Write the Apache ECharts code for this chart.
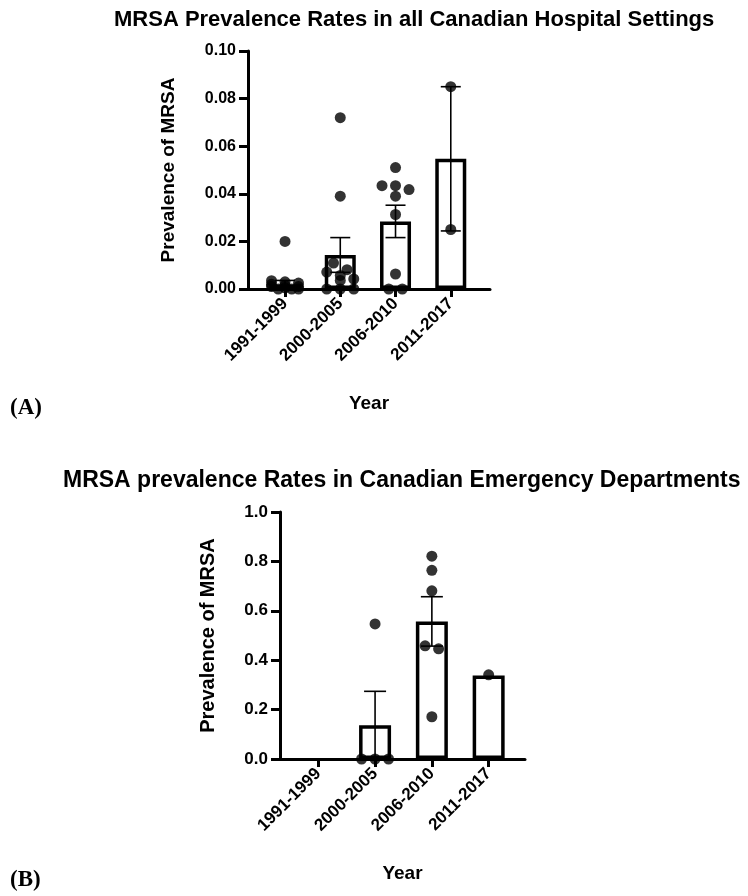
<!DOCTYPE html>
<html>
<head>
<meta charset="utf-8">
<script src="https://cdn.jsdelivr.net/npm/echarts@6/dist/echarts.min.js"></script>
<style>
  html, body { margin: 0; padding: 0; background: #fff; }
  #main { width: 748px; height: 896px; }
</style>
</head>
<body>
<div id="main"></div>
<script>
// periods on the x axis (same for both panels)
var categories = ['1991-1999', '2000-2005', '2006-2010', '2011-2017'];

// (A) all hospital settings - individual study values per period
var hospitalPoints = [
    [0.020, 0.0035, 0.003, 0.0025, 0.002, 0.0015, 0.001, 0.001, 0.0005, 0, 0, 0],
    [0.072, 0.039, 0.0109, 0.0081, 0.0071, 0.0057, 0.0042, 0.0036, 0, 0, 0],
    [0.051, 0.0434, 0.0434, 0.0418, 0.039, 0.0313, 0.0063, 0, 0],
    [0.085, 0.025]
];
var hospitalMean = [0.0018, 0.0143, 0.0284, 0.0547];
var hospitalSem = [0.0018, 0.0073, 0.0068, 0.0303];

// (B) emergency departments
var edPoints = [
    [],
    [0.547, 0, 0, 0],
    [0.821, 0.764, 0.681, 0.458, 0.446, 0.171],
    [0.341]
];
var edMean = [null, 0.137, 0.557, 0.338];
var edSem = [null, 0.137, 0.100, null];

var FONT = 'Liberation Sans';

// grid geometry
var gA = {left: 248, top: 51, width: 242, height: 238, xmin: -0.67, xmax: 3.71, ymax: 0.1};
var gB = {left: 280, top: 512, width: 245, height: 247, xmin: -0.674, xmax: 3.64, ymax: 1.0};

// simple beeswarm: group close values into rows, centre each row on the category
function swarm(groups, g) {
    var pxX = g.width / (g.xmax - g.xmin);
    var pxY = g.height / g.ymax;
    var step = 13.5, out = [];
    groups.forEach(function (vals, idx) {
        var sorted = vals.slice().sort(function (a, b) { return b - a; });
        var rows = [];
        sorted.forEach(function (v) {
            var row = rows[rows.length - 1];
            if (row && (row.top - v) * pxY < 8 && row.items.length < 3) row.items.push(v);
            else rows.push({top: v, items: [v]});
        });
        rows.forEach(function (row) {
            var n = row.items.length;
            row.items.forEach(function (v, i) {
                out.push([idx + (i - (n - 1) / 2) * step / pxX, v]);
            });
        });
    });
    return out;
}

function barData(means) {
    return means.map(function (m, i) { return [i, m == null ? '-' : m]; });
}
function errData(means, sems) {
    var d = [];
    means.forEach(function (m, i) {
        if (m != null && sems[i] != null) d.push([i, m, sems[i]]);
    });
    return d;
}

function errorRender(capW) {
    return function (params, api) {
        var x = api.value(0), m = api.value(1), s = api.value(2);
        var hi = api.coord([x, m + s]);
        var lo = api.coord([x, m - s]);
        var st = {stroke: '#000', lineWidth: 1.6};
        return {
            type: 'group',
            children: [
                {type: 'line', shape: {x1: hi[0], y1: hi[1], x2: lo[0], y2: lo[1]}, style: st},
                {type: 'line', shape: {x1: hi[0] - capW / 2, y1: hi[1], x2: hi[0] + capW / 2, y2: hi[1]}, style: st},
                {type: 'line', shape: {x1: lo[0] - capW / 2, y1: lo[1], x2: lo[0] + capW / 2, y2: lo[1]}, style: st}
            ]
        };
    };
}

function xAxisFor(g, idx, labelSize) {
    return {
        type: 'value', gridIndex: idx, min: g.xmin, max: g.xmax,
        name: 'Year', nameLocation: 'middle', nameGap: 105,
        nameTextStyle: {fontFamily: FONT, fontWeight: 'bold', fontSize: 19, color: '#000'},
        axisLine: {show: true, onZero: false, lineStyle: {color: '#000', width: 3}},
        axisTick: {show: true, length: 8, customValues: [0, 1, 2, 3], lineStyle: {color: '#000', width: 3}},
        axisLabel: {
            customValues: [0, 1, 2, 3], rotate: 45, margin: 12,
            fontFamily: FONT, fontWeight: 'bold', fontSize: labelSize, color: '#000',
            formatter: function (v) { return categories[Math.round(v)]; }
        },
        splitLine: {show: false}
    };
}

function yAxisFor(g, idx, interval, digits, labelSize, nameSize, nameGap) {
    return {
        type: 'value', gridIndex: idx, min: 0, max: g.ymax, interval: interval,
        name: 'Prevalence of MRSA', nameLocation: 'middle', nameGap: nameGap,
        nameTextStyle: {fontFamily: FONT, fontWeight: 'bold', fontSize: nameSize, color: '#000'},
        axisLine: {show: true, onZero: false, lineStyle: {color: '#000', width: 3}},
        axisTick: {show: true, length: 9, lineStyle: {color: '#000', width: 3}},
        axisLabel: {
            margin: 12, fontFamily: FONT, fontWeight: 'bold', fontSize: labelSize, color: '#000',
            formatter: function (v) { return v.toFixed(digits); }
        },
        splitLine: {show: false}
    };
}

function titleText(text, x, y, size, family) {
    return {
        type: 'text', left: x, top: y,
        style: {text: text, fontFamily: family, fontWeight: 'bold', fontSize: size, fill: '#000'}
    };
}

var barStyle = {color: '#fff', borderColor: '#000', borderWidth: 3.5};

var myChart = echarts.init(document.getElementById('main'));
var option = {
    backgroundColor: '#fff',
    animation: false,
    graphic: [
        titleText('MRSA Prevalence Rates in all Canadian Hospital Settings', 114, 9, 22, FONT),
        titleText('MRSA prevalence Rates in Canadian Emergency Departments', 63, 469, 23, FONT),
        titleText('(A)', 10, 397, 23, 'Liberation Serif'),
        titleText('(B)', 10, 869, 23, 'Liberation Serif')
    ],
    grid: [
        {left: gA.left, top: gA.top, width: gA.width, height: gA.height, outerBoundsMode: 'none'},
        {left: gB.left, top: gB.top, width: gB.width, height: gB.height, outerBoundsMode: 'none'}
    ],
    xAxis: [xAxisFor(gA, 0, 17), xAxisFor(gB, 1, 17)],
    yAxis: [
        yAxisFor(gA, 0, 0.02, 2, 16, 19, 70),
        yAxisFor(gB, 1, 0.2, 1, 17, 20, 62)
    ],
    series: [
        {type: 'bar', xAxisIndex: 0, yAxisIndex: 0, barWidth: 31, itemStyle: barStyle,
         data: barData(hospitalMean), z: 1},
        {type: 'custom', xAxisIndex: 0, yAxisIndex: 0, renderItem: errorRender(20),
         data: errData(hospitalMean, hospitalSem), z: 2},
        {type: 'scatter', xAxisIndex: 0, yAxisIndex: 0, symbol: 'circle', symbolSize: 11,
         itemStyle: {color: '#000'}, clip: false, data: swarm(hospitalPoints, gA), z: 3},

        {type: 'bar', xAxisIndex: 1, yAxisIndex: 1, barWidth: 32, itemStyle: barStyle,
         data: barData(edMean), z: 1},
        {type: 'custom', xAxisIndex: 1, yAxisIndex: 1, renderItem: errorRender(22),
         data: errData(edMean, edSem), z: 2},
        {type: 'scatter', xAxisIndex: 1, yAxisIndex: 1, symbol: 'circle', symbolSize: 11,
         itemStyle: {color: '#000'}, clip: false, data: swarm(edPoints, gB), z: 3}
    ]
};
myChart.setOption(option);
</script>
</body>
</html>
